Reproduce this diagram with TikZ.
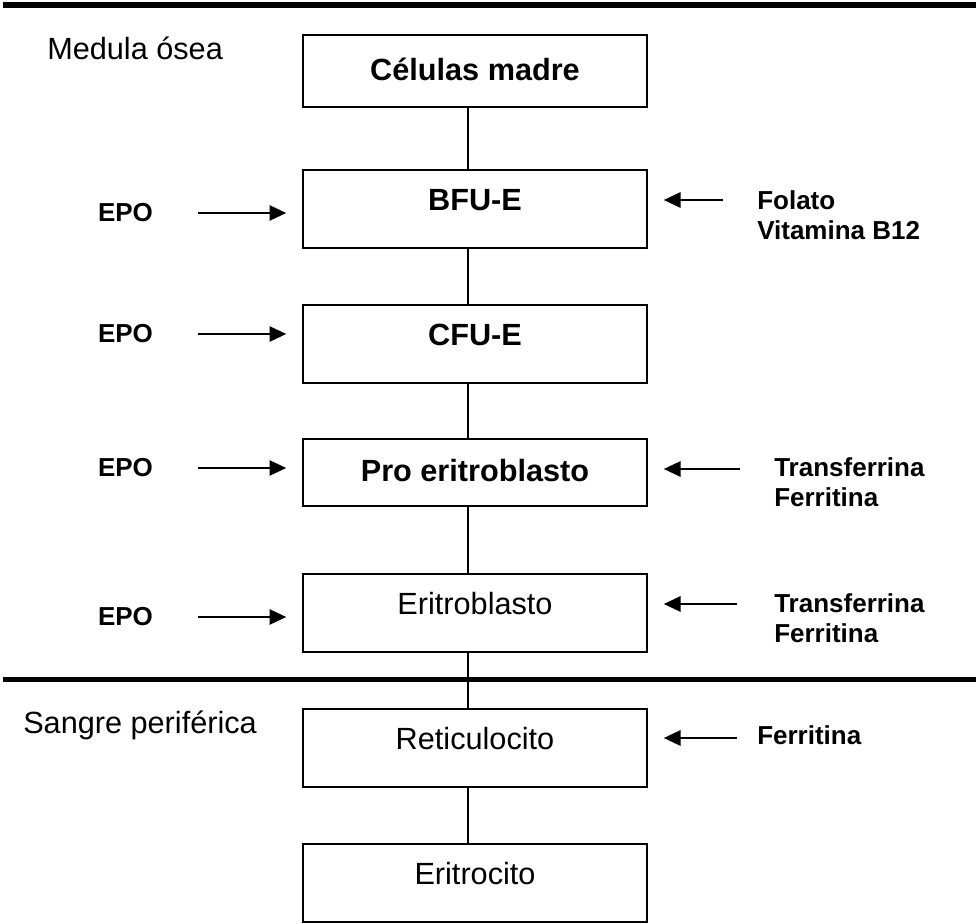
\documentclass[tikz,border=0pt]{standalone}
\usepackage{fontspec}
\setmainfont{Liberation Sans}
\usetikzlibrary{arrows.meta}
\tikzset{
  cell/.style={draw, line width=1.25pt, minimum width=258pt, inner xsep=0pt, inner ysep=0pt,
    text height=30pt, text depth=28.5pt, font=\fontsize{23}{27}\selectfont},
  boldcell/.style={cell, font=\fontsize{23}{27}\selectfont\bfseries},
  tag/.style={inner sep=0pt, align=left, font=\fontsize{19.5}{22.5}\selectfont\bfseries},
  zone/.style={inner sep=0pt, font=\fontsize{23}{27}\selectfont},
  link/.style={line width=1.1pt},
  feed/.style={line width=1.35pt, -{Triangle[length=12.5pt,width=11.5pt]}, shorten >=12pt},
  border/.style={line width=3.9pt}
}
\begin{document}
\begin{tikzpicture}[x=0.75pt,y=-0.75pt]
\useasboundingbox (0,0) rectangle (976,924);
\draw[border] (3,5) -- (976,5);
\draw[border] (3,679.5) -- (976,679.5);
\node[zone, anchor=west] (bone) at (47,48) {Medula ósea};
\node[zone, anchor=base west] (blood) at (23,733) {Sangre periférica};
\node[boldcell, text height=34.5pt, text depth=19.5pt] (stem) at (475,71) {Células madre};
\node[boldcell] (bfu) at (475,209) {BFU-E};
\node[boldcell] (cfu) at (475,344) {CFU-E};
\node[boldcell, text height=31.5pt, text depth=18.75pt] (pro) at (475,472.5) {Pro eritroblasto};
\node[cell] (ebl) at (475,613) {Eritroblasto};
\node[cell] (ret) at (475,748) {Reticulocito};
\node[cell] (ery) at (475,883) {Eritrocito};
\draw[link] ([xshift=-5.25pt]stem.south) -- ([xshift=-5.25pt]bfu.north);
\draw[link] ([xshift=-5.25pt]bfu.south) -- ([xshift=-5.25pt]cfu.north);
\draw[link] ([xshift=-5.25pt]cfu.south) -- ([xshift=-5.25pt]pro.north);
\draw[link] ([xshift=-5.25pt]pro.south) -- ([xshift=-5.25pt]ebl.north);
\draw[link] ([xshift=-5.25pt]ebl.south) -- ([xshift=-5.25pt]ret.north);
\draw[link] ([xshift=-5.25pt]ret.south) -- ([xshift=-5.25pt]ery.north);
\node[tag] (epo1) at (125.5,213) {EPO};
\node[tag] (epo2) at (125.5,334) {EPO};
\node[tag] (epo3) at (125.5,468) {EPO};
\node[tag] (epo4) at (125.5,617) {EPO};
\draw[feed, shorten <=33.75pt] (epo1.east) -- (epo1.east -| bfu.west);
\draw[feed, shorten <=33.75pt] (epo2.east) -- (epo2.east -| cfu.west);
\draw[feed, shorten <=33.75pt] (epo3.east) -- (epo3.east -| pro.west);
\draw[feed, shorten <=33.75pt] (epo4.east) -- (epo4.east -| ebl.west);
\node[tag, anchor=north west] (folate) at (757,190) {Folato\\Vitamina B12};
\node[tag, anchor=north west] (iron1) at (774,457) {Transferrina\\Ferritina};
\node[tag, anchor=north west] (iron2) at (774,593) {Transferrina\\Ferritina};
\node[tag, anchor=north west] (iron3) at (757,725) {Ferritina};
\coordinate (folin) at (723,200);
\coordinate (iron1in) at (740,469);
\coordinate (iron2in) at (737,604);
\coordinate (iron3in) at (737,738);
\draw[feed] (folin) -- (folin -| bfu.east);
\draw[feed] (iron1in) -- (iron1in -| pro.east);
\draw[feed] (iron2in) -- (iron2in -| ebl.east);
\draw[feed] (iron3in) -- (iron3in -| ret.east);
\end{tikzpicture}
\end{document}
